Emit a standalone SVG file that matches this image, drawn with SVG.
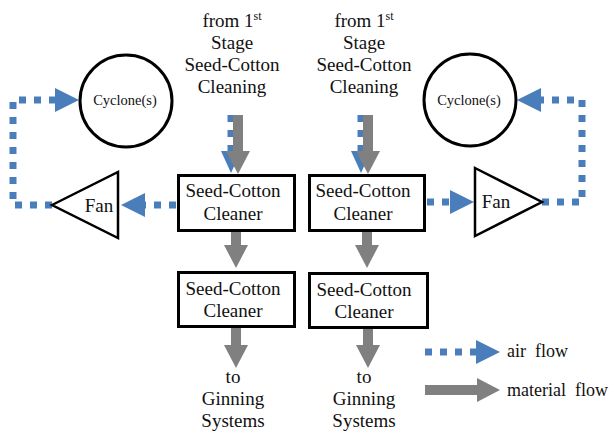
<svg xmlns="http://www.w3.org/2000/svg" width="609" height="432" viewBox="0 0 609 432">
<style>
text{font-family:'Liberation Serif','Times New Roman','DejaVu Serif',serif;fill:#111;text-anchor:middle}
.t{font-size:19px}
.c{font-size:14.5px}
.l{font-size:18px;text-anchor:start}
.box{fill:#fff;stroke:#000;stroke-width:3}
.cyc{fill:#fff;stroke:#000;stroke-width:3}
.fan{fill:#fff;stroke:#000;stroke-width:2.5}
.air{fill:none;stroke:#4A7EBB;stroke-width:7;stroke-dasharray:7 8}
.mat{fill:none;stroke:#808080;stroke-width:10}
</style>
<defs>
<marker id="ah" markerUnits="userSpaceOnUse" markerWidth="24" markerHeight="24" refX="0" refY="12" orient="auto" overflow="visible">
<path d="M0,0 L24,12 L0,24 z" fill="#4A7EBB"/>
</marker>
<marker id="ahs" markerUnits="userSpaceOnUse" markerWidth="22" markerHeight="22" refX="0" refY="10" orient="auto" overflow="visible">
<path d="M0,0 L22,10 L0,20 z" fill="#4A7EBB"/>
</marker>
<marker id="mh" markerUnits="userSpaceOnUse" markerWidth="24" markerHeight="24" refX="0" refY="12" orient="auto" overflow="visible">
<path d="M0,0 L23,12 L0,24 z" fill="#808080"/>
</marker>
</defs>

<g id="connectors">
<path class="air" d="M231,115 V151" marker-end="url(#ahs)"/>
<path class="mat" d="M238,115 V151" marker-end="url(#mh)"/>
<path class="air" d="M361,115 V151" marker-end="url(#ahs)"/>
<path class="mat" d="M368,115 V151" marker-end="url(#mh)"/>
<path class="air" d="M176,205 H145" marker-end="url(#ah)"/>
<path class="air" d="M52,205 H13 V100 H55" marker-end="url(#ah)"/>
<path class="air" d="M427,202 H450" marker-end="url(#ah)"/>
<path class="air" d="M542,202 H582 V100 H541" marker-end="url(#ah)"/>
<path class="mat" d="M236,232 V245" marker-end="url(#mh)"/>
<path class="mat" d="M367,232 V245" marker-end="url(#mh)"/>
<path class="mat" d="M236,328 V345" marker-end="url(#mh)"/>
<path class="mat" d="M368,329 V345" marker-end="url(#mh)"/>
</g>

<g id="src-left">
<text class="t" x="232" y="27">from 1<tspan font-size="12" dy="-7">st</tspan></text>
<text class="t" x="232" y="49">Stage</text>
<text class="t" x="232" y="71">Seed-Cotton</text>
<text class="t" x="232" y="93">Cleaning</text>
</g>
<g id="src-right">
<text class="t" x="364" y="27">from 1<tspan font-size="12" dy="-7">st</tspan></text>
<text class="t" x="364" y="49">Stage</text>
<text class="t" x="364" y="71">Seed-Cotton</text>
<text class="t" x="364" y="93">Cleaning</text>
</g>

<g id="cyclone-left">
<circle class="cyc" cx="126" cy="101" r="46"/>
<text class="c" x="125" y="105">Cyclone(s)</text>
</g>
<g id="cyclone-right">
<circle class="cyc" cx="470" cy="100" r="46"/>
<text class="c" x="469" y="105">Cyclone(s)</text>
</g>

<g id="fan-left">
<polygon class="fan" points="52,205 118,172 118,238"/>
<text class="t" x="99" y="212">Fan</text>
</g>
<g id="fan-right">
<polygon class="fan" points="475,168 542,202 475,236"/>
<text class="t" x="496" y="208">Fan</text>
</g>

<g id="cleaner-l1">
<rect class="box" x="178.5" y="175.5" width="116" height="55"/>
<text class="t" x="233" y="197">Seed-Cotton</text>
<text class="t" x="233" y="220">Cleaner</text>
</g>
<g id="cleaner-r1">
<rect class="box" x="309.5" y="175.5" width="115" height="55"/>
<text class="t" x="363" y="197">Seed-Cotton</text>
<text class="t" x="363" y="220">Cleaner</text>
</g>
<g id="cleaner-l2">
<rect class="box" x="178.5" y="272.5" width="116" height="54"/>
<text class="t" x="233" y="295">Seed-Cotton</text>
<text class="t" x="233" y="317">Cleaner</text>
</g>
<g id="cleaner-r2">
<rect class="box" x="309.5" y="273.5" width="118" height="54"/>
<text class="t" x="364" y="296">Seed-Cotton</text>
<text class="t" x="364" y="318">Cleaner</text>
</g>

<g id="out-left">
<text class="t" x="233" y="383">to</text>
<text class="t" x="233" y="405">Ginning</text>
<text class="t" x="233" y="427">Systems</text>
</g>
<g id="out-right">
<text class="t" x="364" y="383">to</text>
<text class="t" x="364" y="405">Ginning</text>
<text class="t" x="364" y="427">Systems</text>
</g>

<g id="legend">
<path class="air" d="M425,352 H476" marker-end="url(#ah)"/>
<path class="mat" d="M425,390 H477" marker-end="url(#mh)"/>
<text class="l" x="507" y="357" xml:space="preserve">air  flow</text>
<text class="l" x="507" y="396" xml:space="preserve">material  flow</text>
</g>
</svg>
